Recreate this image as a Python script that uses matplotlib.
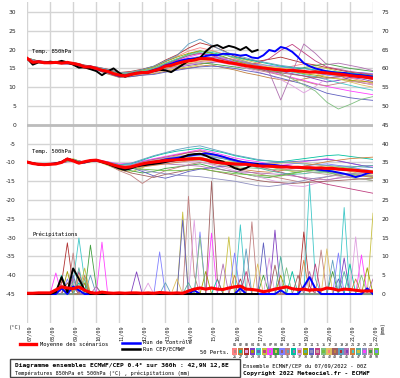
import numpy as np
import matplotlib
matplotlib.use("Agg")
import matplotlib.pyplot as plt
from matplotlib.lines import Line2D
from matplotlib.patches import Rectangle

plt.rcParams['axes.unicode_minus'] = False

# ---------------- data ----------------
date_labels = ['07/09', '08/09', '09/09', '10/09', '11/09', '12/09', '13/09', '14/09',
               '15/09', '16/09', '17/09', '18/09', '19/09', '20/09', '21/09', '22/09']

# 6-hourly series (days 0..15)
mean850 = [17.7, 16.6, 16.8, 16.5, 16.5, 16.6, 16.4, 16.6, 16.3, 16.0, 15.4, 15.4,
           15.0, 14.5, 14.2, 13.6, 13.2, 13.0, 13.4, 13.7, 13.9, 13.9, 14.4, 14.8,
           15.6, 15.8, 16.3, 16.7, 17.0, 17.2, 17.6, 17.6, 17.5, 17.1, 16.8, 16.5,
           16.3, 16.0, 15.7, 15.5, 15.3, 15.1, 14.9, 14.7, 14.6, 14.4, 14.5, 14.3,
           14.2, 14.0, 14.1, 13.9, 13.8, 13.6, 13.5, 13.3, 13.1, 12.9, 12.8, 12.6, 12.4]
oper850 = [17.7, 16.0, 16.6, 16.5, 16.8, 16.6, 17.0, 16.6, 16.0, 15.2, 15.3, 14.8,
           14.3, 13.2, 14.2, 15.0, 13.8, 12.8, 13.3, 13.8, 13.8, 14.0, 14.3, 14.6,
           14.5, 14.0, 15.0, 16.0, 17.0, 17.4, 17.8, 19.5, 20.8, 21.2, 20.4, 21.0,
           20.6, 19.9, 20.7, 19.4, 19.9]
ctrl850 = [17.7, 16.5, 16.9, 16.6, 16.4, 16.7, 16.5, 16.5, 16.2, 15.9, 15.3, 15.5,
           14.9, 14.4, 14.1, 13.5, 13.0, 13.1, 13.5, 13.8, 14.0, 14.0, 14.6, 15.0,
           15.8, 16.2, 16.8, 17.2, 17.5, 17.6, 17.8, 18.3, 18.6, 18.5, 18.9, 18.8,
           18.7, 18.4, 18.6, 17.9, 17.7, 18.5, 19.9, 19.5, 20.7, 20.3, 19.4, 18.0,
           16.4, 15.6, 15.0, 14.6, 14.2, 14.0, 13.8, 13.8, 13.5, 13.3, 13.2, 13.0, 12.8]

mean500 = [-9.9, -10.3, -10.5, -10.6, -10.5, -10.4, -10.0, -9.1, -9.6, -10.2, -9.8, -9.5,
           -9.4, -9.8, -10.2, -10.7, -11.1, -11.4, -11.2, -10.8, -10.4, -10.1, -9.9, -9.7,
           -9.5, -9.4, -9.3, -9.2, -9.1, -9.0, -9.0, -9.3, -9.8, -10.0, -10.2, -10.3,
           -10.4, -10.5, -10.5, -10.7, -10.9, -11.0, -11.0, -11.1, -11.2, -11.2, -11.3, -11.3,
           -11.4, -11.4, -11.5, -11.5, -11.6, -11.6, -11.8, -11.9, -12.0, -12.1, -12.3, -12.4, -12.6]
oper500 = [-9.9, -10.2, -10.6, -10.7, -10.5, -10.3, -9.9, -9.0, -9.5, -10.2, -9.9, -9.5,
           -9.4, -9.9, -10.4, -11.0, -11.6, -12.0, -11.6, -11.0, -10.8, -10.6, -10.4, -10.2,
           -9.9, -9.6, -9.3, -8.6, -8.0, -7.8, -7.7, -8.2, -8.9, -9.4, -9.8, -10.7,
           -11.5, -12.0, -11.5, -10.7, -10.5]
ctrl500 = [-9.9, -10.3, -10.5, -10.6, -10.4, -10.3, -9.9, -9.1, -9.5, -10.1, -10.0, -9.6,
           -9.5, -9.8, -10.3, -10.8, -11.3, -11.7, -11.5, -11.0, -10.6, -10.2, -9.9, -9.6,
           -9.2, -9.0, -8.8, -8.5, -8.2, -8.0, -7.8, -7.6, -7.8, -8.1, -8.5, -9.0,
           -9.4, -9.8, -10.0, -10.2, -10.4, -10.5, -10.6, -10.7, -10.9, -11.0, -11.2, -11.4,
           -11.5, -11.6, -11.8, -12.0, -12.2, -12.4, -12.7, -13.0, -13.4, -13.9, -13.5, -12.9, -12.6]

mean_precip = [0.2, 0.2, 0.3, 0.3, 0.3, 1.1, 1.9, 1.6, 1.4, 1.9, 1.0, 0.4,
               0.2, 0.5, 0.3, 0.2, 0.3, 0.2, 0.3, 0.3, 0.2, 0.3, 0.2, 0.4,
               0.3, 0.2, 0.3, 0.2, 0.8, 1.3, 1.6, 1.3, 1.6, 1.3, 1.2, 1.6,
               1.9, 2.1, 1.3, 1.2, 1.0, 0.6, 0.9, 1.3, 1.6, 1.9, 1.4, 1.2,
               1.3, 1.0, 1.2, 1.1, 1.6, 1.4, 1.0, 1.3, 1.2, 1.0, 0.8, 0.8, 0.8]
oper_precip = [0, 0, 0, 0, 0, 0.5, 4.5, 0.5, 6.8, 4.0, 1.0, 0,
               0, 0, 0, 0, 0, 0, 0, 0, 0, 0, 0, 0, 0, 0, 0, 0, 0, 0,
               0, 0, 0, 0, 0, 0, 0, 0, 0, 0, 0]
# control precipitation: (6h step, mm), zero elsewhere
ctrl_precip_steps = [(6, 1.5), (8, 2.0), (9, 1.0), (29, 1.0), (37, 1.5), (44, 1.0),
                     (48, 2.0), (49, 4.5), (50, 1.5), (59, 1.5)]

# 12-hourly ensemble members (days 0..15)
t850_members = [
    [17.6,16.9,16.7,16.2,16.5,15.8,15.2,14.0,13.0,13.8,14.5,15.3,16.8,18.2,19.6,20.5,19.8,18.9,17.6,16.8,16.0,15.2,14.8,15.6,16.2,15.1,14.0,13.2,12.4,11.8,11.0],
    [17.8,16.6,16.3,16.5,16.0,15.0,14.6,13.5,12.6,12.8,13.2,13.6,14.2,14.8,15.1,15.6,15.9,15.2,14.6,13.8,13.2,12.5,12.0,11.6,12.2,12.8,13.5,13.1,12.0,11.2,10.6],
    [17.7,17.0,16.8,16.6,16.6,15.9,15.4,14.8,13.9,14.2,14.8,15.6,17.2,18.6,20.4,21.8,21.0,19.8,18.2,17.5,16.9,17.4,18.0,17.2,16.4,15.9,15.2,14.6,14.0,13.6,13.2],
    [17.6,16.7,16.4,16.3,16.1,15.2,14.7,13.9,12.8,12.9,13.4,14.0,14.9,15.3,15.8,16.2,16.6,16.9,16.4,16.0,15.4,14.8,14.2,13.6,13.0,12.2,11.4,11.8,12.6,12.2,11.5],
    [17.7,16.9,16.6,16.5,16.4,15.5,15.3,14.6,13.6,13.7,14.3,15.1,16.4,17.5,18.4,19.2,18.8,18.0,17.2,16.5,15.8,15.0,14.4,14.0,13.4,12.8,12.0,11.2,10.5,9.8,9.2],
    [17.8,16.7,16.5,16.3,16.2,15.3,14.8,13.8,12.9,13.0,13.5,13.8,14.6,15.0,15.4,16.0,16.8,17.4,17.9,17.2,16.4,15.6,15.2,14.8,14.9,15.4,15.0,14.2,13.6,13.4,13.0],
    [17.7,16.8,16.6,16.4,16.3,15.6,15.1,14.3,13.4,13.6,14.1,14.8,16.0,17.0,18.0,18.8,18.6,17.6,16.7,15.9,15.0,14.1,13.4,12.6,11.8,11.0,10.2,9.6,9.0,8.5,8.0],
    [17.6,16.8,16.4,16.4,16.4,15.4,15.0,14.1,13.1,13.3,13.8,14.2,15.0,15.6,16.2,16.5,16.2,15.8,15.4,15.0,14.8,14.4,14.0,14.6,15.2,15.8,16.2,15.6,15.0,14.6,14.2],
    [17.7,16.7,16.6,16.5,16.5,15.7,15.1,14.4,13.5,13.5,13.8,14.6,15.8,16.9,17.6,18.2,18.0,17.4,16.9,16.4,16.0,15.8,15.4,15.0,14.4,13.8,13.2,12.8,13.4,13.9,13.6],
    [17.8,16.9,16.7,16.3,16.2,15.2,14.9,14.0,13.0,13.1,13.6,14.0,14.8,15.5,16.1,16.8,17.2,16.6,16.0,15.2,14.5,13.9,13.2,12.4,11.6,10.8,10.4,11.0,11.6,11.2,10.8],
    [17.7,16.8,16.5,16.4,16.3,15.4,15.1,14.3,13.3,13.6,14.2,14.9,16.2,17.4,18.8,19.6,19.2,18.6,18.0,17.4,16.8,16.2,15.6,15.2,15.0,14.6,14.4,14.0,13.8,13.4,13.0],
    [17.6,16.6,16.4,16.5,16.4,15.5,14.9,14.1,13.2,13.2,13.5,13.9,14.7,15.4,16.0,16.6,16.9,16.4,15.8,15.0,14.1,13.2,12.0,10.4,8.5,10.2,12.4,12.6,11.8,11.4,10.6],
    [17.8,16.9,16.6,16.6,16.5,15.6,15.2,14.5,13.7,13.9,14.6,15.4,16.8,18.0,19.0,19.7,19.0,18.2,17.0,16.2,15.6,15.2,14.8,14.2,13.6,13.2,12.6,12.2,11.8,11.6,11.3],
    [17.7,16.7,16.4,16.2,16.1,15.1,14.6,13.7,12.7,12.8,13.2,13.4,14.0,14.5,15.0,15.4,15.6,15.4,15.0,14.4,13.9,13.2,12.4,11.6,10.8,9.6,8.4,7.8,7.2,6.8,6.5],
    [17.7,16.8,16.5,16.4,16.3,15.4,15.0,14.2,13.2,13.4,14.0,14.7,16.0,17.2,18.4,19.0,18.4,17.4,16.6,16.0,16.4,17.6,19.8,21.4,19.2,17.0,15.4,14.8,14.2,13.8,13.4],
    [17.6,16.9,16.6,16.6,16.4,15.6,15.2,14.4,13.4,13.6,14.3,15.0,16.4,17.6,18.6,19.4,19.6,18.8,17.8,16.8,15.8,14.8,13.6,12.2,10.6,9.0,6.0,4.2,5.4,6.8,7.5],
    [17.8,16.6,16.4,16.3,16.2,15.2,14.8,13.9,12.9,13.1,13.6,14.1,15.1,15.8,16.4,17.0,17.1,16.8,16.4,16.0,15.6,15.4,15.0,14.8,14.2,13.6,12.8,12.2,11.4,10.6,10.0],
    [17.7,16.8,16.6,16.4,16.3,15.5,15.0,14.2,13.3,13.5,14.0,14.6,15.6,16.6,17.4,18.0,17.6,16.9,16.2,15.6,14.8,14.2,13.8,13.4,13.0,12.6,12.4,12.8,13.2,12.6,12.0],
    [17.7,16.9,16.7,16.5,16.6,15.8,15.4,14.7,13.8,14.0,14.7,15.6,17.0,18.4,21.5,22.8,21.2,19.6,18.6,17.8,17.0,16.4,15.8,15.4,15.0,14.4,13.8,13.6,13.4,13.2,12.8],
    [17.6,16.7,16.5,16.3,16.2,15.3,14.9,14.0,13.1,13.2,13.7,14.3,15.3,16.2,17.0,17.6,17.9,17.8,17.3,16.6,15.8,14.0,6.6,14.0,21.5,19.0,16.0,16.4,15.8,15.2,14.4],
]

t500_members = [
    [-9.8,-10.4,-10.6,-9.9,-9.0,-10.2,-9.6,-10.8,-12.0,-12.6,-11.4,-10.2,-9.0,-8.2,-7.4,-6.8,-7.6,-8.4,-9.2,-10.0,-10.6,-11.2,-11.8,-12.4,-12.0,-11.4,-10.8,-11.6,-12.4,-13.0,-13.4],
    [-10.0,-10.6,-10.4,-10.2,-9.5,-9.8,-9.2,-9.8,-10.4,-10.2,-9.6,-9.0,-8.4,-7.8,-7.2,-6.6,-7.2,-8.0,-8.8,-9.4,-9.8,-10.4,-10.8,-10.4,-9.8,-9.4,-9.0,-9.6,-10.2,-10.8,-11.0],
    [-9.9,-10.5,-10.5,-10.1,-9.4,-10.0,-9.5,-10.4,-11.6,-12.2,-12.8,-12.4,-11.6,-11.2,-10.8,-10.4,-11.2,-12.0,-12.6,-13.2,-13.8,-14.0,-13.4,-12.8,-12.4,-12.0,-12.6,-13.4,-14.0,-14.4,-14.8],
    [-9.8,-10.4,-10.5,-9.8,-9.2,-10.1,-9.3,-10.0,-10.8,-10.6,-9.8,-9.2,-8.8,-8.6,-8.4,-8.2,-8.6,-9.0,-9.6,-10.0,-10.4,-10.8,-11.0,-11.4,-11.0,-10.6,-10.4,-10.8,-11.2,-11.8,-12.2],
    [-10.0,-10.6,-10.6,-10.0,-9.3,-10.0,-9.6,-10.6,-12.2,-13.4,-15.6,-13.6,-12.2,-11.4,-10.6,-10.0,-10.4,-11.0,-11.6,-12.4,-13.0,-13.6,-14.2,-14.8,-15.4,-14.6,-13.8,-13.2,-12.8,-13.4,-13.8],
    [-9.9,-10.5,-10.4,-10.0,-9.4,-9.9,-9.3,-10.0,-10.6,-10.4,-9.4,-8.4,-7.6,-7.0,-6.6,-6.2,-6.8,-7.4,-8.2,-8.8,-9.4,-9.6,-9.8,-9.4,-9.0,-8.6,-8.2,-8.0,-8.4,-8.8,-9.2],
    [-9.9,-10.4,-10.5,-10.1,-9.2,-10.1,-9.4,-10.3,-11.4,-11.8,-11.0,-10.6,-10.2,-10.0,-9.8,-9.8,-10.6,-11.4,-12.2,-13.0,-13.8,-14.6,-15.4,-16.2,-16.4,-15.6,-14.8,-14.0,-13.4,-13.0,-12.8],
    [-9.8,-10.6,-10.5,-9.9,-9.4,-10.0,-9.5,-10.2,-11.0,-11.0,-10.2,-9.6,-9.2,-9.0,-8.8,-8.6,-9.4,-9.8,-10.0,-10.2,-10.6,-10.8,-11.0,-11.2,-11.6,-12.0,-12.4,-12.8,-13.2,-13.6,-14.0],
    [-10.0,-10.5,-10.6,-10.0,-9.3,-10.0,-9.4,-10.1,-11.0,-11.4,-12.4,-13.6,-14.2,-13.4,-12.4,-11.8,-11.4,-11.0,-10.8,-10.6,-10.4,-10.2,-10.0,-9.8,-9.6,-9.4,-9.2,-9.6,-10.2,-10.8,-11.4],
    [-9.9,-10.4,-10.4,-10.0,-9.4,-9.9,-9.3,-10.0,-10.8,-10.8,-9.9,-9.2,-8.6,-8.0,-7.4,-7.0,-7.8,-8.6,-9.4,-10.2,-11.0,-11.8,-12.6,-13.4,-14.2,-15.0,-15.8,-16.4,-17.0,-17.6,-18.2],
    [-9.9,-10.5,-10.5,-9.9,-9.3,-10.1,-9.5,-10.3,-11.3,-11.6,-10.8,-10.2,-9.8,-9.6,-9.4,-9.4,-10.0,-10.6,-11.0,-11.4,-11.6,-11.8,-12.0,-12.2,-12.4,-12.6,-12.8,-13.0,-13.2,-13.4,-13.6],
    [-9.8,-10.5,-10.6,-10.0,-9.2,-10.0,-9.4,-10.2,-11.2,-11.2,-10.4,-9.8,-9.4,-9.2,-9.0,-8.8,-9.2,-9.6,-10.0,-10.4,-10.6,-10.4,-10.2,-10.0,-10.2,-10.6,-11.0,-11.4,-11.8,-12.0,-12.2],
    [-10.0,-10.6,-10.5,-10.1,-9.4,-10.1,-9.5,-10.5,-11.8,-12.8,-13.4,-14.0,-13.2,-12.6,-12.0,-11.6,-12.2,-12.8,-13.4,-14.2,-14.8,-15.2,-15.4,-15.6,-15.4,-15.2,-15.0,-14.8,-14.6,-14.4,-14.2],
    [-9.9,-10.4,-10.5,-10.0,-9.3,-9.9,-9.3,-9.9,-10.6,-10.2,-9.2,-8.2,-7.4,-6.6,-6.0,-5.6,-6.4,-7.2,-8.0,-8.6,-9.2,-9.6,-10.0,-10.2,-10.4,-10.6,-10.8,-11.0,-11.0,-11.2,-11.4],
    [-9.9,-10.5,-10.4,-10.0,-9.4,-10.0,-9.4,-10.1,-11.0,-11.0,-10.6,-10.4,-10.4,-10.6,-10.8,-11.0,-11.6,-12.0,-12.4,-12.6,-12.8,-13.0,-13.2,-13.6,-14.0,-14.4,-14.6,-14.2,-13.8,-13.6,-13.6],
    [-9.8,-10.5,-10.6,-9.9,-9.3,-10.1,-9.4,-10.3,-11.2,-11.6,-11.2,-10.8,-10.4,-10.0,-9.6,-9.2,-9.8,-10.4,-11.2,-12.0,-12.4,-12.6,-12.2,-11.6,-11.0,-10.4,-9.8,-9.4,-9.0,-8.8,-8.6],
    [-10.0,-10.4,-10.5,-10.0,-9.2,-10.0,-9.5,-10.2,-11.0,-11.2,-10.6,-10.0,-9.4,-9.0,-8.4,-7.8,-8.4,-9.0,-9.8,-10.6,-11.4,-12.2,-12.8,-13.2,-13.0,-12.6,-12.2,-11.8,-11.4,-11.0,-10.8],
    [-9.9,-10.5,-10.5,-10.0,-9.4,-10.0,-9.4,-10.2,-11.1,-11.4,-12.0,-12.6,-13.0,-13.4,-13.6,-13.8,-14.2,-14.6,-15.0,-15.6,-16.2,-16.4,-16.0,-15.4,-14.8,-14.2,-13.8,-13.4,-13.0,-12.8,-12.6],
    [-9.8,-10.4,-10.5,-10.1,-9.3,-10.0,-9.3,-10.0,-10.8,-10.8,-10.0,-9.4,-8.8,-8.4,-8.0,-7.6,-8.2,-8.8,-9.4,-10.0,-10.6,-11.2,-11.6,-12.0,-12.4,-12.8,-13.2,-13.6,-14.0,-14.4,-14.8],
    [-9.9,-10.6,-10.5,-10.0,-9.3,-10.1,-9.4,-10.2,-11.2,-11.6,-11.8,-12.0,-12.2,-12.2,-12.0,-11.6,-12.2,-12.6,-13.0,-13.2,-13.4,-13.6,-13.6,-13.0,-12.4,-11.8,-11.4,-11.2,-11.6,-12.0,-12.4],
]

# member precipitation: (6h step, mm) per member, zero elsewhere
precip_member_steps = [
    [(6, 3.0), (7, 13.6), (8, 2.0), (37, 4.0), (48, 16.5), (49, 2.0)],
    [(9, 4.0), (10, 2.5), (19, 5.9), (43, 17.0), (55, 9.6)],
    [(8, 3.0), (9, 14.9), (10, 3.5), (37, 18.4), (49, 29.5), (50, 4.0), (55, 23.0)],
    [(10, 6.9), (27, 21.8), (35, 15.2), (60, 21.5)],
    [(5, 5.6), (13, 13.8), (32, 16.2), (58, 10.4)],
    [(11, 13.0), (12, 2.0), (41, 5.0), (53, 6.0)],
    [(7, 4.0), (23, 11.2), (30, 16.5), (36, 10.9), (54, 10.9)],
    [(8, 10.9), (28, 26.0), (29, 5.0), (39, 19.2), (51, 11.7)],
    [(6, 5.0), (9, 3.0), (33, 4.0), (46, 6.0), (56, 8.0)],
    [(21, 2.9), (29, 19.7), (42, 9.6), (57, 15.2)],
    [(7, 6.0), (10, 3.0), (31, 6.0), (44, 5.0), (59, 7.0)],
    [(8, 5.0), (27, 19.7), (41, 13.6), (54, 4.0)],
    [(6, 2.5), (9, 6.0), (38, 6.0), (50, 8.0)],
    [(10, 4.0), (30, 15.2), (45, 7.0), (58, 5.0)],
    [(9, 5.0), (26, 4.0), (40, 8.0), (52, 12.0)],
    [(7, 3.0), (32, 30.0), (33, 4.0), (43, 7.7), (47, 5.0)],
    [(11, 5.0), (24, 3.0), (38, 12.0), (53, 9.0)],
    [(8, 4.0), (12, 2.0), (34, 8.0), (49, 6.0), (60, 4.0)],
    [(6, 4.0), (10, 5.0), (36, 5.0), (48, 9.0), (57, 4.0)],
    [(9, 7.0), (28, 3.0), (44, 10.0), (55, 6.0)],
]

member_colors = ['#ff8080', '#c08040', '#b03030', '#8040c0', '#40c8c8', '#c8c040',
                 '#ff40ff', '#40a040', '#8080ff', '#c08080', '#00c0a0', '#e0a0e0',
                 '#a0a000', '#6060c0', '#c04080', '#80c080', '#e0c060', '#a06060',
                 '#60a0c0', '#b070b0', '#d08040', '#50b0a0', '#9090c0', '#c0a0a0', '#70c040']

# ---------------- figure ----------------
W, H = 400, 378
def fx(x): return x / W
def fy(y): return 1 - y / H

fig = plt.figure(figsize=(W / 100, H / 100), dpi=100)
ax = fig.add_axes([fx(27), fy(323), 346 / W, 321 / H])
ax.set_xlim(0, 15)
ax.set_ylim(-52.71, 32.66)

t6 = np.arange(61) * 0.25
t12 = np.arange(31) * 0.5

for n in range(len(t850_members)):
    assert len(t850_members[n]) == 31 and len(t500_members[n]) == 31, n

ax.set_xticks(range(16))
ax.set_yticks(range(-45, 31, 5))
ax.grid(True, color='#d4d4d4', lw=1.0)
ax.set_axisbelow(True)
ax.axhline(0, color='#bcbcbc', lw=2.0, zorder=0.6)
ax.tick_params(axis='x', length=0, labelbottom=False)
ax.tick_params(axis='y', length=0, pad=8, labelsize=4.3, labelcolor='#222222')
for s in ax.spines.values():
    s.set_visible(False)
sec = ax.secondary_yaxis('right', functions=(lambda v: v + 45, lambda m: m - 45))
sec.set_yticks(range(0, 76, 5))
sec.tick_params(length=0, pad=6, labelsize=4.3, labelcolor='#222222')
for s in sec.spines.values():
    s.set_visible(False)

# members
for n, vals in enumerate(t850_members):
    ax.plot(t12, vals, color=member_colors[n % len(member_colors)], lw=0.6, zorder=2)
for n, vals in enumerate(t500_members):
    ax.plot(t12, vals, color=member_colors[(n + 5) % len(member_colors)], lw=0.6, zorder=2)
for n, steps in enumerate(precip_member_steps):
    p = np.zeros(61)
    for k, v in steps:
        p[k] = v
    ax.plot(t6, p - 45, color=member_colors[(n + 2) % len(member_colors)], lw=0.6, zorder=2)

# control
cp = np.zeros(61)
for k, v in ctrl_precip_steps:
    cp[k] = v
for series in (ctrl850, ctrl500):
    ax.plot(t6, series, color='#0000ff', lw=1.4, zorder=3)
ax.plot(t6, cp - 45, color='#0000ff', lw=1.4, zorder=3)

# operational
t_op = t6[:len(oper850)]
ax.plot(t_op, oper850, color='black', lw=1.4, zorder=4)
ax.plot(t_op, oper500, color='black', lw=1.4, zorder=4)
ax.plot(t_op, np.array(oper_precip) - 45, color='black', lw=1.4, zorder=4)

# mean
ax.plot(t6, mean850, color='#ff0000', lw=2.2, zorder=5)
ax.plot(t6, mean500, color='#ff0000', lw=2.2, zorder=5)
ax.plot(t6, np.array(mean_precip) - 45, color='#ff0000', lw=2.2, zorder=5)

mono = 'DejaVu Sans Mono'
ax.text(0.22, 19.4, 'Temp. 850hPa', fontsize=4.0, family=mono, va='center', zorder=6)
ax.text(0.22, -6.97, 'Temp. 500hPa', fontsize=4.0, family=mono, va='center', zorder=6)
ax.text(0.22, -29.0, 'Précipitations', fontsize=4.0, family=mono, va='center', zorder=6)

for i, lab in enumerate(date_labels):
    ax.text(i + 0.1, -53.3, lab, rotation=90, ha='center', va='top', fontsize=3.7,
            family=mono, clip_on=False, color='#222222')

fig.text(fx(9), fy(327), '(°C)', fontsize=3.9, family=mono, va='center', color='#222222')
fig.text(fx(382), fy(328), '(mm)', fontsize=3.9, family=mono, va='center', ha='center',
         rotation=90, color='#222222')

# legend
fig.add_artist(Line2D([fx(20), fx(36)], [fy(344), fy(344)], color='#ff0000', lw=2.4))
fig.text(fx(40), fy(344), 'Moyenne des scénarios', fontsize=3.9, family=mono, va='center')
fig.add_artist(Line2D([fx(122), fx(140)], [fy(343), fy(343)], color='#0000ff', lw=1.8))
fig.text(fx(143), fy(343), 'Run de contrôle', fontsize=3.9, family=mono, va='center')
fig.add_artist(Line2D([fx(122), fx(140)], [fy(348.5), fy(348.5)], color='black', lw=1.8))
fig.text(fx(143), fy(349), 'Run CEP/ECMWF', fontsize=3.9, family=mono, va='center')
fig.text(fx(200), fy(352), '50 Perts.', fontsize=3.9, family=mono, va='center')

cw = 5.9
for i in range(25):
    x0 = 232 + i * cw
    fig.add_artist(Rectangle((fx(x0), fy(355)), (cw - 0.6) / W, 7 / H, transform=fig.transFigure,
                             color=member_colors[i], lw=0))
    fig.add_artist(Rectangle((fx(x0 + 1.5), fy(353)), 2.5 / W, 3 / H, transform=fig.transFigure,
                             color=member_colors[(i + 9) % 25], lw=0))
    fig.text(fx(x0 + cw / 2), fy(345), f'{i + 1:02d}', fontsize=2.4, family=mono,
             ha='center', va='center')
    fig.text(fx(x0 + cw / 2), fy(357.5), f'{i + 26:02d}', fontsize=2.4, family=mono,
             ha='center', va='center')

# bottom boxes
fig.add_artist(Rectangle((fx(10), fy(377)), 230 / W, 18 / H, transform=fig.transFigure,
                         fill=False, ec='#444444', lw=1.0))
fig.text(fx(15), fy(366), 'Diagramme ensembles ECMWF/CEP 0.4° sur 360h : 42,9N 12,8E',
         fontsize=4.5, family=mono, weight='bold', va='center')
fig.text(fx(15), fy(373), 'Températures 850hPa et 500hPa (°C) , précipitations (mm)',
         fontsize=3.7, family=mono, va='center')
fig.text(fx(243), fy(366), 'Ensemble ECMWF/CEP du 07/09/2022 - 00Z',
         fontsize=3.9, family=mono, va='center')
fig.text(fx(243), fy(374), 'Copyright 2022 Meteociel.fr - ECMWF',
         fontsize=4.3, family=mono, weight='bold', va='center')

fig.savefig('out.png', dpi=100)
